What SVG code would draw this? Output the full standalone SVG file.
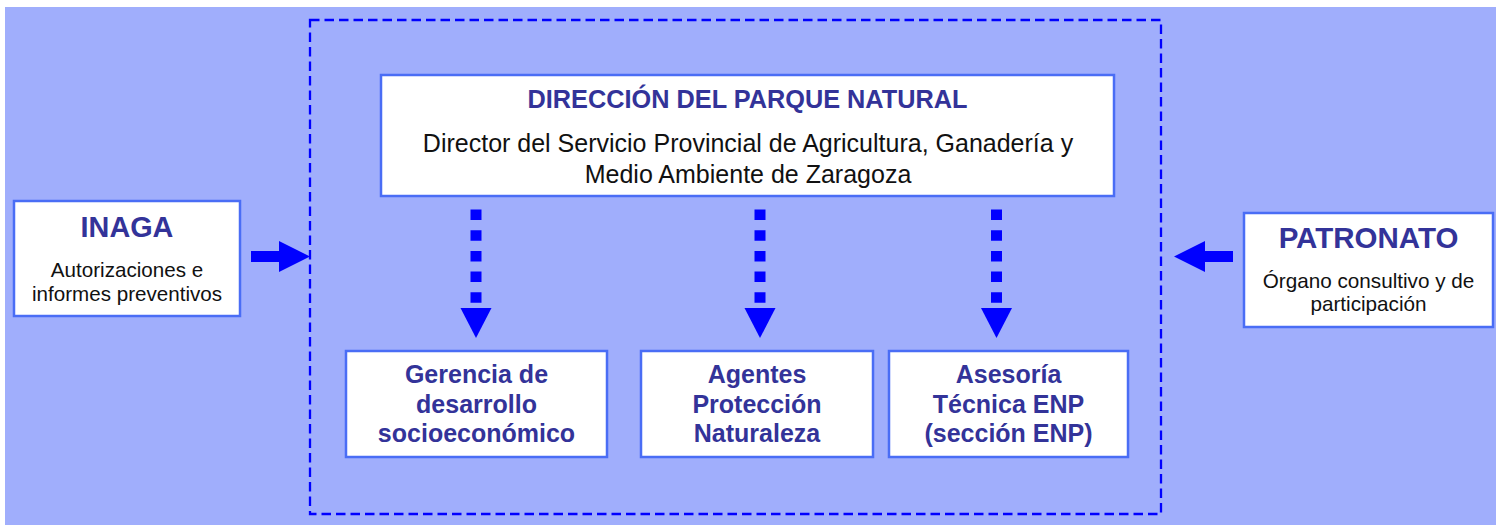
<svg xmlns="http://www.w3.org/2000/svg" width="1499" height="525" viewBox="0 0 1499 525">
<style>
.box{fill:#ffffff;stroke:#4a6df5;stroke-width:2.5}
.ttl{font-family:"Liberation Sans",Arial,sans-serif;font-weight:bold;fill:#333399;text-anchor:middle}
.txt{font-family:"Liberation Sans",Arial,sans-serif;fill:#111111;text-anchor:middle}
.dots{stroke:#0000ff;stroke-width:11;stroke-dasharray:10.5 10.2;fill:none}
.head{fill:#0000ff}
</style>
<rect x="5" y="7" width="1491" height="518" fill="#a0aefc"/>
<rect x="310" y="20" width="851" height="494" fill="none" stroke="#0000ff" stroke-width="2.3" stroke-dasharray="9.5 5"/>
<g id="direccion">
<rect class="box" x="381" y="75" width="733" height="121"/>
<text class="ttl" x="747.5" y="108" font-size="25.3">DIRECCIÓN DEL PARQUE NATURAL</text>
<text class="txt" x="748" y="152" font-size="25">Director del Servicio Provincial de Agricultura, Ganadería y</text>
<text class="txt" x="748" y="183" font-size="25">Medio Ambiente de Zaragoza</text>
</g>
<g id="inaga">
<rect class="box" x="14" y="201" width="226" height="115"/>
<text class="ttl" x="127" y="237" font-size="28.8">INAGA</text>
<text class="txt" x="127" y="277" font-size="20.6">Autorizaciones e</text>
<text class="txt" x="127" y="301" font-size="20.6">informes preventivos</text>
</g>
<g id="patronato">
<rect class="box" x="1244" y="213" width="249" height="114"/>
<text class="ttl" x="1368.5" y="248" font-size="29.5">PATRONATO</text>
<text class="txt" x="1368.5" y="288" font-size="20.7">Órgano consultivo y de</text>
<text class="txt" x="1368.5" y="311" font-size="20.7">participación</text>
</g>
<g id="gerencia">
<rect class="box" x="346" y="351" width="261" height="106"/>
<text class="ttl" x="476.5" y="383" font-size="25">Gerencia de</text>
<text class="ttl" x="476.5" y="413" font-size="25">desarrollo</text>
<text class="ttl" x="476.5" y="442" font-size="25">socioeconómico</text>
</g>
<g id="agentes">
<rect class="box" x="641" y="351" width="232" height="106"/>
<text class="ttl" x="757" y="383" font-size="25">Agentes</text>
<text class="ttl" x="757" y="413" font-size="25">Protección</text>
<text class="ttl" x="757" y="442" font-size="25">Naturaleza</text>
</g>
<g id="asesoria">
<rect class="box" x="889" y="351" width="239" height="106"/>
<text class="ttl" x="1008.5" y="383" font-size="25">Asesoría</text>
<text class="ttl" x="1008.5" y="413" font-size="25">Técnica ENP</text>
<text class="ttl" x="1008.5" y="442" font-size="25">(sección ENP)</text>
</g>
<g id="connectors">
<line class="dots" x1="476" y1="209.5" x2="476" y2="303"/>
<polygon class="head" points="460.5,308 491.5,308 476,338"/>
<line class="dots" x1="760" y1="209.5" x2="760" y2="303"/>
<polygon class="head" points="744.5,308 775.5,308 760,338"/>
<line class="dots" x1="996.5" y1="209.5" x2="996.5" y2="303"/>
<polygon class="head" points="981,308 1012,308 996.5,338"/>
<polygon class="head" points="251,251 279,251 279,241 310,256.5 279,272 279,262 251,262"/>
<polygon class="head" points="1233,251 1205,251 1205,241 1174,256.5 1205,272 1205,262 1233,262"/>
</g>
</svg>
